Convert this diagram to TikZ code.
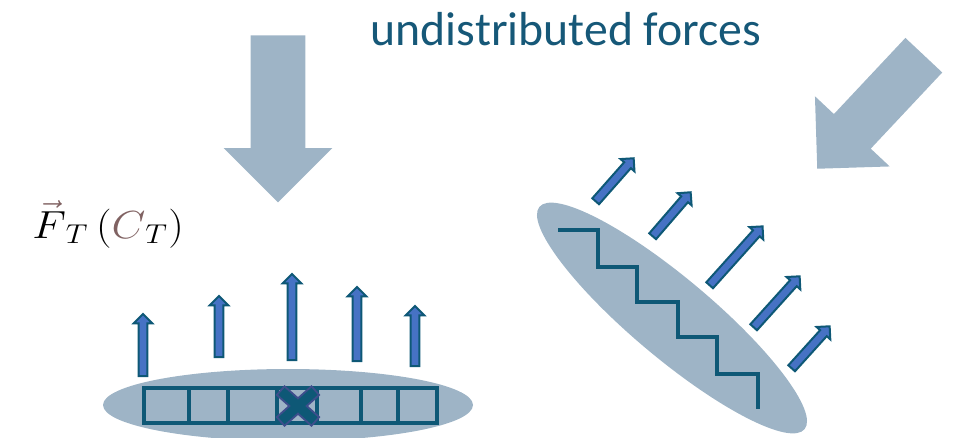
\documentclass[tikz,border=0pt]{standalone}
\usepackage{amsmath}
\usepackage{graphicx}
\usepackage{fontspec}
\newfontfamily\labelfont{Carlito}
\usetikzlibrary{shapes.arrows,calc}

\definecolor{paleblue}{RGB}{158,180,198}
\definecolor{deepteal}{RGB}{14,88,118}
\definecolor{arrowblue}{RGB}{70,114,196}
\definecolor{crossrim}{RGB}{62,78,140}
\definecolor{cbrown}{RGB}{128,98,98}
\definecolor{titleteal}{RGB}{22,88,120}

\tikzset{
  bigdown/.style={single arrow, fill=paleblue, draw=none, inner xsep=0pt,
    inner ysep=20.25pt, single arrow head extend=20.25pt,
    text height=0pt, text depth=0pt, text width=0pt},
  bigdiag/.style={single arrow, fill=paleblue, draw=none, inner xsep=0pt,
    inner ysep=18.75pt, single arrow head extend=19.5pt,
    text height=0pt, text depth=0pt, text width=0pt},
  forcearrow/.style={single arrow, fill=arrowblue, draw=deepteal, line width=1.5pt,
    inner xsep=0pt, inner ysep=2.6pt, single arrow head extend=3.6pt,
    text height=0pt, text depth=0pt, text width=0pt},
  body/.style={fill=paleblue, draw=none},
  cellline/.style={draw=deepteal, line width=2.6pt},
  stairline/.style={draw=deepteal, line width=2.6pt},
}

% arrow-shaped node laid from a tail point to a tip point
\newcommand\arrownode[4][]{%
  \path let \p1=($(#4)-(#3)$), \n1={atan2(\y1,\x1)}, \n2={veclen(\x1,\y1)} in
    node[#1, minimum height=\n2, rotate=\n1, anchor=tail] (#2) at (#3) {};}

\begin{document}
\begin{tikzpicture}[x=0.75pt,y=-0.75pt]
\useasboundingbox (0,0) rectangle (953,437);

% title
\node[font=\labelfont\fontsize{35.8}{42}\selectfont, text=titleteal, anchor=base,
      inner sep=0pt] (title) at (566,45) {undistributed forces};

% large applied forces
\arrownode[bigdown]{downforce}{278,35}{278,202}
\arrownode[bigdiag]{diagforce}{924,55}{817,169}

% force label
\node[anchor=base west, inner sep=0pt] (flabel) at (32,238)
  {\scalebox{1.9}[1.7]{\LARGE$\mathord{\color{cbrown}\vec{\color{black}F}}_T\,(\textcolor{cbrown}{C}_T)$}};

% left body with its cell row
\path[body] (288,405) ellipse [x radius=185, y radius=36];
\draw[cellline] (144,388) rectangle (437,423);
\foreach \xc in {189,228,277,317,361,398}
  \draw[cellline] (\xc,388) -- (\xc,423);

% cross marker
\draw[crossrim, line width=10pt] (280,390) -- (316,422) (316,390) -- (280,422);
\draw[deepteal, line width=7pt] (281.5,391.3) -- (314.5,420.7) (314.5,391.3) -- (281.5,420.7);

% upward forces on the left body
\arrownode[forcearrow]{la1}{143,377}{143,315}
\arrownode[forcearrow]{la2}{219,358}{219,297}
\arrownode[forcearrow]{la3}{292,361}{292,275}
\arrownode[forcearrow]{la4}{357,362}{357,288}
\arrownode[forcearrow]{la5}{415,367}{415,307}

% tilted body with its stepped edge
\path[body, rotate around={-40:(672,318)}] (672,318) ellipse [x radius=173, y radius=40];
\draw[stairline] (558,230) -- (598,230) -- (598,267) -- (637,267) -- (637,302)
  -- (678,302) -- (678,337) -- (717,337) -- (717,374) -- (758,374) -- (758,409);

% forces on the tilted body
\arrownode[forcearrow]{ra1}{595,202}{633,159}
\arrownode[forcearrow]{ra2}{652,237}{690,193}
\arrownode[forcearrow]{ra3}{709,286}{762,227}
\arrownode[forcearrow]{ra4}{753,328}{799,277}
\arrownode[forcearrow]{ra5}{791,369}{829,327}
\end{tikzpicture}
\end{document}
